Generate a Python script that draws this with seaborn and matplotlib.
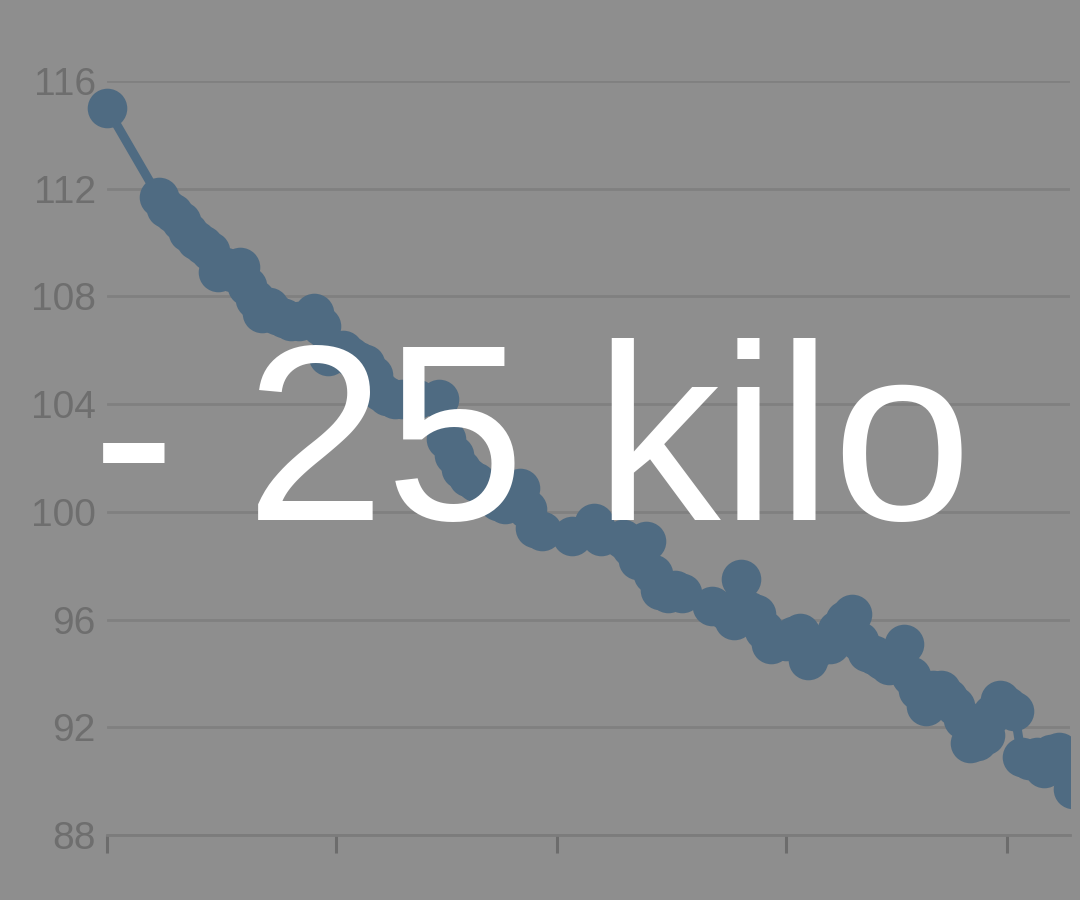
import numpy as np
import pandas as pd
import matplotlib
matplotlib.use("Agg")
import matplotlib.pyplot as plt
import matplotlib.patches as mpatches
import seaborn as sns

# day number since start, weight in kg
days = [0, 7, 8, 9, 10, 11, 12, 13, 14, 15, 16, 17, 18, 19, 20, 21, 22, 23, 24, 25,
        26, 28, 29, 30, 32, 33, 34, 35, 36, 37, 38, 39, 40, 41, 42, 45, 46, 47, 48, 49,
        50, 52, 53, 54, 56, 57, 58, 59, 63, 66, 67, 70, 71, 72, 73, 74, 75, 76, 77, 78,
        82, 84, 85, 86, 87, 88, 89, 90, 91, 92, 93, 94, 95, 96, 97, 98, 99, 100, 101, 102,
        103, 104, 105, 106, 107, 108, 109, 110, 111, 112, 113, 114, 115, 116, 117, 118, 119, 120, 121, 122,
        123, 124, 125, 126, 127, 128, 129, 130, 131]
weight = [115.0, 111.7, 111.3, 111.1, 110.8, 110.4, 110.1, 109.9, 109.7, 108.9, 109.1, 108.9, 109.1, 108.4, 107.9, 107.4, 107.6, 107.3, 107.2, 107.1,
          107.1, 107.4, 106.9, 105.8, 106.0, 105.8, 105.6, 105.5, 105.1, 104.5, 104.3, 104.2, 104.2, 104.2, 104.2, 104.2, 102.7, 102.1, 101.6, 101.3,
          101.1, 100.8, 100.4, 100.3, 100.9, 100.1, 99.4, 99.3, 99.1, 99.6, 99.1, 99.0, 98.7, 98.2, 98.9, 97.7, 97.1, 97.0, 97.1, 97.0,
          96.5, 96.3, 96.0, 97.5, 96.3, 96.2, 95.6, 95.1, 95.2, 95.2, 95.4, 95.5, 94.5, 94.9, 95.1, 95.1, 95.6, 96.0, 96.2, 95.2,
          94.8, 94.7, 94.5, 94.3, 94.5, 95.1, 93.9, 93.4, 92.8, 93.4, 93.4, 93.1, 92.8, 92.3, 91.4, 91.5, 91.7, 92.5, 93.0, 92.8,
          92.6, 90.9, 90.8, 90.9, 90.5, 91.0, 91.1, 90.8, 89.7]

y_ticks = [88, 92, 96, 100, 104, 108, 112, 116]
x_ticks = [0, 31, 61, 92, 122]

bg = "#8e8e8e"
line_col = "#4f6b82"

sns.set_style("white", {"axes.facecolor": bg, "figure.facecolor": bg})
plt.rcParams["font.family"] = ["Liberation Sans", "DejaVu Sans"]

df = pd.DataFrame({"day": days, "kg": weight})

fig = plt.figure(figsize=(10.8, 9), dpi=100)
ax = fig.add_axes([107 / 1080, 65 / 900, (1070 - 107) / 1080, (835 - 81) / 900])

sns.lineplot(data=df, x="day", y="kg", ax=ax, color=line_col, linewidth=6.5,
             marker="o", markersize=28.5, markeredgewidth=0, zorder=3)

# clip only on the right, first marker sits over the left edge
clip = mpatches.Rectangle((0, 0), 1070 / 1080, 1, transform=fig.transFigure,
                          facecolor="none", edgecolor="none")
fig.add_artist(clip)
for ln in ax.lines:
    ln.set_clip_path(clip)

ax.set_xlim(0, (1070 - 107) / 7.377)
ax.set_ylim(88, 116)
ax.set_yticks(y_ticks)
ax.set_xticks(x_ticks)
ax.set_xticklabels([])
ax.set_xlabel("")
ax.set_ylabel("")

ax.grid(axis="y", color="#808080", linewidth=2)
ax.set_axisbelow(True)
for s in ["top", "right", "left"]:
    ax.spines[s].set_visible(False)
ax.spines["bottom"].set_color("#7c7c7c")
ax.spines["bottom"].set_linewidth(2)

ax.tick_params(axis="y", left=False, length=0, pad=8, labelsize=28, labelcolor="#6e6e6e")
ax.tick_params(axis="x", bottom=True, direction="out", length=13, width=2.2, color="#6c6c6c", pad=2)

fig.text(532 / 1080, 1 - 520 / 900, "- 25 kilo", ha="center", va="baseline",
         fontsize=181, color="white", family=["Liberation Sans", "DejaVu Sans"])

fig.savefig("out.png", dpi=100, facecolor=bg)
